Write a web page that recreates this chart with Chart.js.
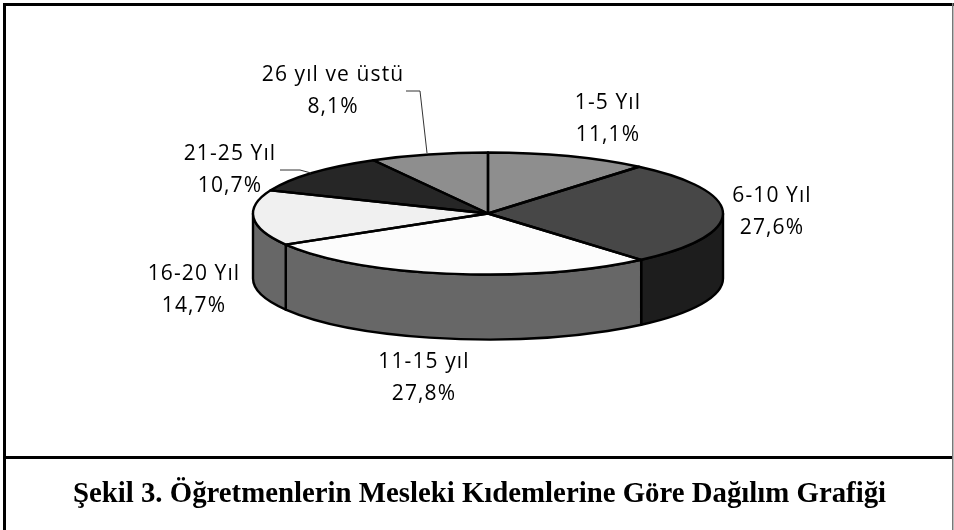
<!DOCTYPE html>
<html><head><meta charset="utf-8">
<style>html,body{margin:0;padding:0;background:#fff}canvas{display:block}</style>
<script src="https://cdn.jsdelivr.net/npm/chart.js@4/dist/chart.umd.min.js"></script>
</head><body>
<canvas id="c" width="954" height="530"></canvas>
<script>
const categories = ["1-5 Yıl","6-10 Yıl","11-15 yıl","16-20 Yıl","21-25 Yıl","26 yıl ve üstü"];
const percentages = [11.1,27.6,27.8,14.7,10.7,8.1];
const percentLabels = ["11,1%","27,6%","27,8%","14,7%","10,7%","8,1%"];
const topColors = ["#8e8e8e","#474747","#fcfcfc","#f0f0f0","#262626","#8e8e8e"];
const wallColors = ["#5f5f5f","#1d1d1d","#676767","#676767","#1a1a1a","#5f5f5f"];
const titleText = "Şekil 3. Öğretmenlerin Mesleki Kıdemlerine Göre Dağılım Grafiği";

const SQUASH = 61/235, DEPTH = 65, LABEL_FONT = '21px "Open Sans"';
const labelAnchors = [[608,103],[772,196],[424,362],[194,274],[230,154],[333,75]];
const LINE_GAP = 32;
const leaders = [[[406,91],[420,91],[427,153]],[[280,170],[300,170],[311,173]]];

const pie3d = {
  id:'pie3d',
  afterLayout(chart){
    chart.titleBlock.left = 5;
    chart.titleBlock.right = 954;
  },
  beforeDraw(chart){
    const c = chart.ctx;
    c.save();
    c.fillStyle='#fff'; c.fillRect(0,0,954,530);
    c.fillStyle='#000';
    c.fillRect(3,3,951,3); c.fillRect(3,3,3,527); c.fillRect(3,456,950,3);
    c.fillStyle='#777'; c.fillRect(952,3,1.5,527);
    c.restore();
  },
  beforeDatasetsDraw(chart){
    const c = chart.ctx, arcs = chart.getDatasetMeta(0).data;
    const {x,y,outerRadius:r} = arcs[0];
    const ry = r*SQUASH;
    c.save();
    c.lineWidth = 2.4; c.strokeStyle='#000'; c.lineJoin='round';
    arcs.forEach((a,i)=>{
      const s = Math.max(a.startAngle,0), e = Math.min(a.endAngle,Math.PI);
      if(e<=s) return;
      c.beginPath();
      c.ellipse(x,y,r,ry,0,s,e);
      c.ellipse(x,y+DEPTH,r,ry,0,e,s,true);
      c.closePath();
      c.fillStyle = wallColors[i];
      c.fill(); c.stroke();
    });
    c.restore();
    c.save();
    c.translate(x,y); c.scale(1,SQUASH); c.translate(-x,-y);
  },
  afterDatasetsDraw(chart){
    const c = chart.ctx, arcs = chart.getDatasetMeta(0).data;
    c.restore();
    const {x,y,outerRadius:r} = arcs[0];
    const ry = r*SQUASH;
    c.save();
    c.lineWidth = 2.4; c.strokeStyle='#000'; c.lineJoin='round';
    arcs.forEach(a=>{
      c.beginPath();
      c.moveTo(x,y);
      c.ellipse(x,y,r,ry,0,a.startAngle,a.endAngle);
      c.closePath();
      c.stroke();
    });
    c.lineWidth = 1; c.strokeStyle='#333';
    leaders.forEach(l=>{
      c.beginPath();
      l.forEach((p,i)=> i? c.lineTo(p[0],p[1]) : c.moveTo(p[0],p[1]));
      c.stroke();
    });
    c.fillStyle='#000'; c.font=LABEL_FONT; c.textAlign='center'; c.textBaseline='middle';
    c.letterSpacing='1.1px';
    categories.forEach((t,i)=>{
      const [ax,ay]=labelAnchors[i];
      c.fillText(t,ax,ay);
      c.fillText(percentLabels[i],ax,ay+LINE_GAP);
    });
    c.restore();
  }
};

new Chart(document.getElementById('c'),{
  type:'pie',
  data:{labels:categories,datasets:[{data:percentages,backgroundColor:topColors,borderWidth:0,clip:false}]},
  options:{
    responsive:false,animation:false,radius:235,
    layout:{padding:{left:22,right:0,top:0,bottom:0}},
    plugins:{
      legend:{display:false},tooltip:{enabled:false},
      title:{display:true,text:titleText,position:'bottom',color:'#000',
        font:{family:'"Liberation Serif"',size:28.8,weight:'bold',lineHeight:1.2},
        padding:{top:50.7,bottom:17.7}}
    }
  },
  plugins:[pie3d]
});
</script>
</body></html>
